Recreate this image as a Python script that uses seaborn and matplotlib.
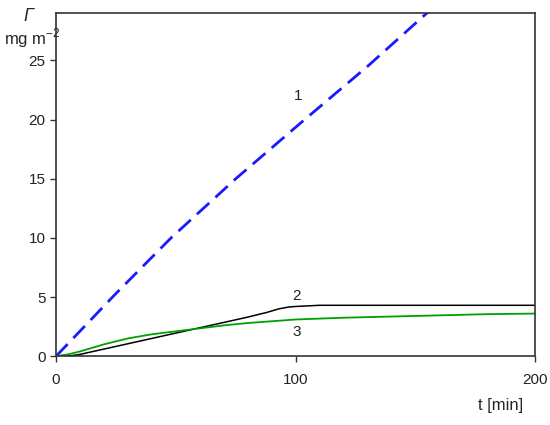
import matplotlib
matplotlib.use("Agg")
import matplotlib.pyplot as plt
import seaborn as sns
import pandas as pd

# Curve 1: near-linear growth (dashed blue)
t1 = [0, 25, 48, 75, 102, 130, 155.3]
g1 = [0, 5.3, 10, 15, 19.7, 24.5, 29.1]

# Curve 2: black, rises then plateaus
t2 = [0, 5, 10, 20, 30, 40, 50, 60, 70, 80, 88, 93, 97, 100, 105, 110, 150, 200]
g2 = [0, 0, 0.15, 0.6, 1.05, 1.5, 1.95, 2.4, 2.85, 3.3, 3.7, 4.0, 4.15, 4.2, 4.25, 4.3, 4.3, 4.3]

# Curve 3: green, saturating
t3 = [0, 5, 10, 20, 30, 40, 50, 60, 70, 80, 90, 100, 120, 140, 160, 180, 200]
g3 = [0, 0.15, 0.4, 1.0, 1.5, 1.85, 2.1, 2.35, 2.6, 2.8, 2.95, 3.1, 3.25, 3.35, 3.45, 3.55, 3.6]

labels = ["1", "2", "3"]
label_pos = [(101, 22), (100.5, 5.1), (100.5, 2.0)]


def main():
    sns.set_style("ticks")
    plt.rcParams['font.family'] = ['Liberation Sans', 'DejaVu Sans']

    fig = plt.figure(figsize=(5.5, 4.25), dpi=100)
    ax = fig.add_axes([0.102, 0.162, 0.871, 0.807])

    d1 = pd.DataFrame({'t': t1, 'g': g1})
    d2 = pd.DataFrame({'t': t2, 'g': g2})
    d3 = pd.DataFrame({'t': t3, 'g': g3})

    sns.lineplot(data=d1, x='t', y='g', ax=ax, color='#1a1aff', lw=2,
                 linestyle=(0, (6, 3)))
    sns.lineplot(data=d2, x='t', y='g', ax=ax, color='black', lw=1.1)
    sns.lineplot(data=d3, x='t', y='g', ax=ax, color='#00a000', lw=1.3)

    for lab, (x, y) in zip(labels, label_pos):
        ax.text(x, y, lab, fontsize=11, ha='center', va='center', color='#222222')

    ax.set_xlim(0, 200)
    ax.set_ylim(0, 29)
    ax.set_xticks([0, 100, 200])
    ax.set_yticks([0, 5, 10, 15, 20, 25])
    ax.tick_params(labelsize=11, direction='out', length=4, width=1, colors='#333333',
                   labelcolor='#222222')
    ax.tick_params(axis='x', pad=8)
    for s in ax.spines.values():
        s.set_color('#333333')
        s.set_linewidth(1.2)

    ax.set_xlabel('')
    ax.set_ylabel('')
    fig.text(0.91, 0.045, 't [min]', fontsize=12, ha='center', va='center')
    fig.text(0.052, 0.962, 'Γ', fontsize=13, ha='center', va='center',
             style='italic')
    fig.text(0.008, 0.91, 'mg m$^{\\mathregular{-2}}$', fontsize=12, ha='left', va='center')

    fig.savefig('out.png', dpi=100)


if __name__ == "__main__":
    main()
